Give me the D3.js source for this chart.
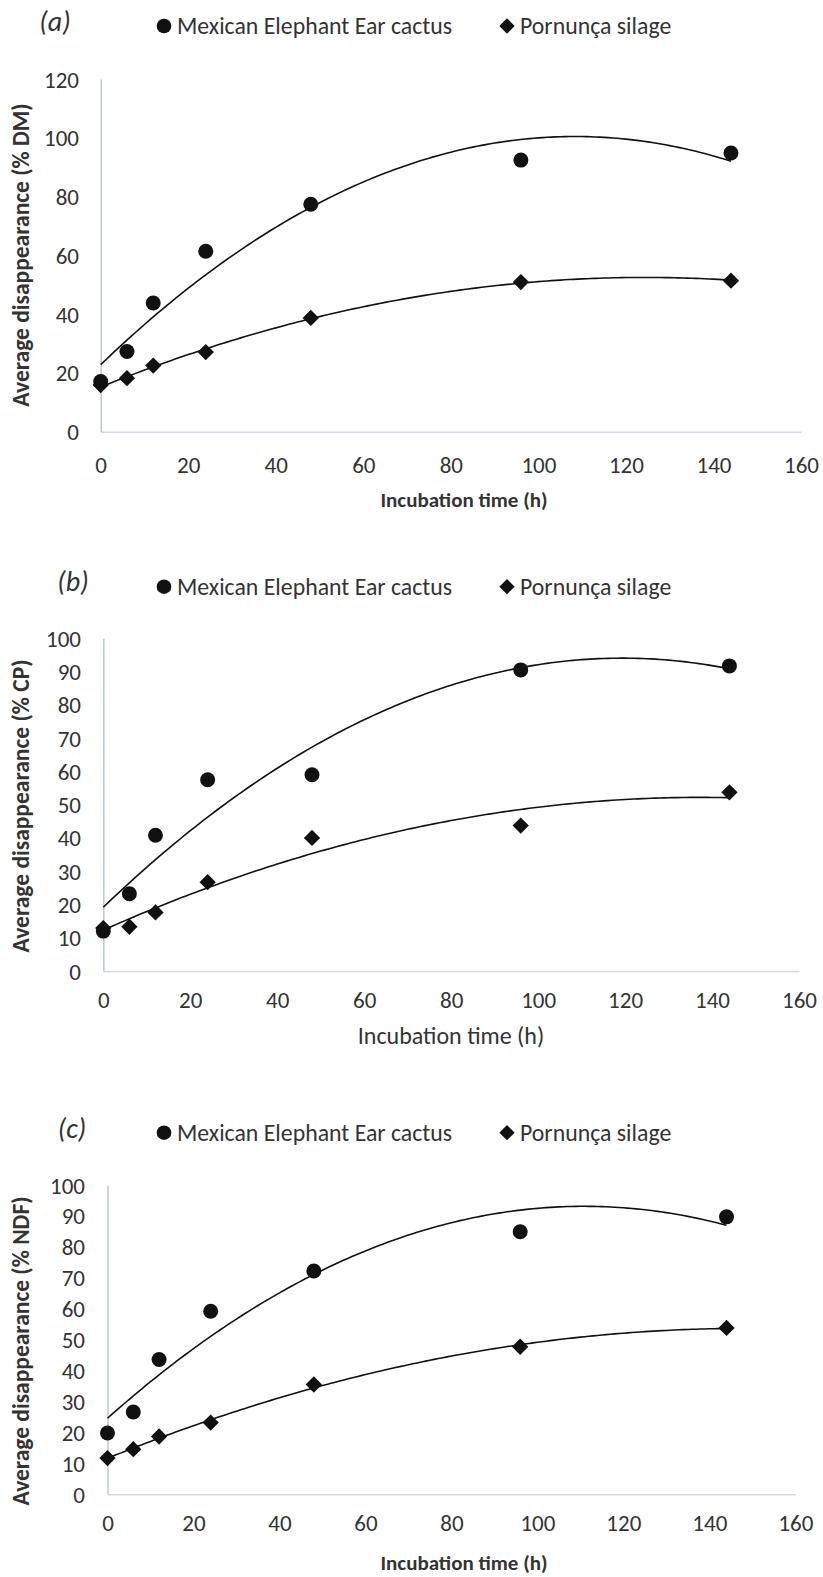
<!DOCTYPE html>
<html><head><meta charset="utf-8">
<script src="https://cdn.jsdelivr.net/npm/d3@7"></script>
<style>
body{margin:0;background:#fff;}
text{font-family:Carlito,Calibri,"Open Sans",sans-serif;fill:#333;}
</style></head>
<body><svg id="chart" width="823" height="1577"></svg>
<script>
const hours = [0, 6, 12, 24, 48, 96, 144];
const seriesNames = ["Mexican Elephant Ear cactus", "Pornunça silage"];
const cactusDM = [17.1, 27.3, 43.8, 61.4, 77.4, 92.4, 94.8];
const silageDM = [15.9, 18.2, 22.5, 27.1, 38.7, 50.9, 51.4];
const cactusCP = [12.0, 23.2, 40.8, 57.5, 59.0, 90.5, 91.7];
const silageCP = [12.9, 13.3, 17.6, 26.7, 40.0, 43.7, 53.7];
const cactusNDF = [19.8, 26.6, 43.6, 59.2, 72.2, 84.9, 89.7];
const silageNDF = [11.7, 14.6, 18.7, 23.2, 35.5, 47.7, 53.8];
const xTicks = [0, 20, 40, 60, 80, 100, 120, 140, 160];
const yTicksA = [0, 20, 40, 60, 80, 100, 120];
const yTicksBC = [0, 10, 20, 30, 40, 50, 60, 70, 80, 90, 100];

const panels = [
  {label:"(a)", yTitle:"Average disappearance (% DM)", xBold:true, cactus:cactusDM, silage:silageDM,
   yMax:120, yTicks:yTicksA, left:100.7, right:801, top:79, bottom:431.7,
   labelX:55, labelY:31, legendY:26, xLabY:465, xTitleX:464, xTitleY:500, xTitleSize:21, yTitleX:21, yTitleY:255, yLabRight:79},
  {label:"(b)", yTitle:"Average disappearance (% CP)", xBold:false, cactus:cactusCP, silage:silageCP,
   yMax:100, yTicks:yTicksBC, left:103.3, right:799, top:638.3, bottom:971,
   labelX:73, labelY:591, legendY:586.7, xLabY:1000, xTitleX:451, xTitleY:1036, xTitleSize:24, yTitleX:21, yTitleY:806, yLabRight:81},
  {label:"(c)", yTitle:"Average disappearance (% NDF)", xBold:true, cactus:cactusNDF, silage:silageNDF,
   yMax:100, yTicks:yTicksBC, left:107.5, right:795.3, top:1185, bottom:1494.3,
   labelX:72, labelY:1138, legendY:1132.7, xLabY:1523, xTitleX:464, xTitleY:1563, xTitleSize:21, yTitleX:21, yTitleY:1351, yLabRight:85}
];

function quadFit(xs, ys){
  // least-squares 2nd order polynomial (like a spreadsheet trendline)
  let s=[0,0,0,0,0], t=[0,0,0];
  xs.forEach((x,i)=>{ for(let k=0;k<5;k++) s[k]+=Math.pow(x,k); for(let k=0;k<3;k++) t[k]+=ys[i]*Math.pow(x,k); });
  const M=[[s[0],s[1],s[2],t[0]],[s[1],s[2],s[3],t[1]],[s[2],s[3],s[4],t[2]]];
  for(let i=0;i<3;i++){
    for(let j=i+1;j<3;j++){ const f=M[j][i]/M[i][i]; for(let k=i;k<4;k++) M[j][k]-=f*M[i][k]; }
  }
  const c=[0,0,0];
  for(let i=2;i>=0;i--){ let v=M[i][3]; for(let k=i+1;k<3;k++) v-=M[i][k]*c[k]; c[i]=v/M[i][i]; }
  return x=>c[0]+c[1]*x+c[2]*x*x;
}

const svg = d3.select("#chart");
const ink = "#111";

panels.forEach(p=>{
  const g = svg.append("g");
  const x = d3.scaleLinear().domain([0,160]).range([p.left,p.right]);
  const y = d3.scaleLinear().domain([0,p.yMax]).range([p.bottom,p.top]);

  const xAxis = g.append("g").attr("transform",`translate(0,${p.bottom})`)
    .call(d3.axisBottom(x).tickValues(xTicks).tickSize(0).tickPadding(0));
  xAxis.select(".domain").attr("stroke","#d3d9e2").attr("stroke-width",1.5);
  xAxis.selectAll("text").attr("y", p.xLabY - p.bottom).attr("dy","0.35em")
    .style("font-size","23px").style("fill","#333");

  const yAxis = g.append("g").attr("transform",`translate(${p.left},0)`)
    .call(d3.axisLeft(y).tickValues(p.yTicks).tickSize(0).tickPadding(0));
  yAxis.select(".domain").attr("stroke","#bcc7d8").attr("stroke-width",1.5);
  yAxis.selectAll("text").attr("x", p.yLabRight - p.left).attr("dy","0.35em")
    .style("font-size","23px").style("fill","#333");

  g.append("text").attr("x",p.xTitleX).attr("y",p.xTitleY).attr("dy","0.35em")
    .attr("text-anchor","middle").style("font-size",p.xTitleSize+"px")
    .style("font-weight",p.xBold?"bold":"normal").text("Incubation time (h)");
  g.append("text").attr("transform",`translate(${p.yTitleX},${p.yTitleY}) rotate(-90)`)
    .attr("dy","0.35em").attr("text-anchor","middle").style("font-size","23.5px")
    .style("font-weight","bold").text(p.yTitle);
  g.append("text").attr("x",p.labelX).attr("y",p.labelY).attr("text-anchor","middle")
    .style("font-size","28px").style("font-style","italic").text(p.label);

  g.append("circle").attr("cx",164).attr("cy",p.legendY).attr("r",7.3).attr("fill",ink);
  g.append("text").attr("x",177).attr("y",p.legendY).attr("dy","0.35em")
    .style("font-size","23.8px").text(seriesNames[0]);
  g.append("path").attr("d",d3.symbol(d3.symbolDiamond2,150)())
    .attr("transform",`translate(507,${p.legendY})`).attr("fill",ink);
  g.append("text").attr("x",520).attr("y",p.legendY).attr("dy","0.35em")
    .style("font-size","23.8px").text(seriesNames[1]);

  const line = d3.line().x(d=>x(d[0])).y(d=>y(d[1]));
  [p.cactus, p.silage].forEach(vals=>{
    const f = quadFit(hours, vals);
    const pts = d3.range(0, 144.01, 1).map(h=>[h, f(h)]);
    g.append("path").attr("d",line(pts)).attr("fill","none").attr("stroke",ink).attr("stroke-width",1.6);
  });

  g.selectAll(".c").data(hours).enter().append("circle")
    .attr("cx",(h)=>x(h)).attr("cy",(h,i)=>y(p.cactus[i])).attr("r",7.5).attr("fill",ink);
  g.selectAll(".d").data(hours).enter().append("path")
    .attr("d",d3.symbol(d3.symbolDiamond2,170)())
    .attr("transform",(h,i)=>`translate(${x(h)},${y(p.silage[i])})`).attr("fill",ink);
});
</script></body></html>
